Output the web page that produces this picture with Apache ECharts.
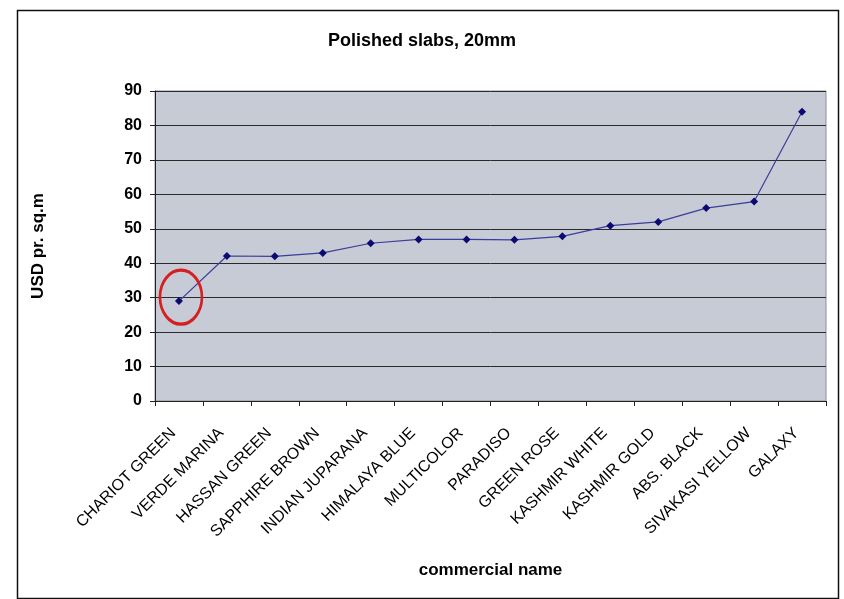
<!DOCTYPE html>
<html>
<head>
<meta charset="utf-8">
<script src="https://cdn.jsdelivr.net/npm/echarts@6/dist/echarts.min.js"></script>
<style>
  html, body { margin: 0; padding: 0; background: #ffffff; }
  #chart { width: 844px; height: 599px; }
</style>
</head>
<body>
<div id="chart"></div>
<script>
// Commercial names of the stone varieties, cheapest first
const categories = [
  'CHARIOT GREEN', 'VERDE MARINA', 'HASSAN GREEN', 'SAPPHIRE BROWN',
  'INDIAN JUPARANA', 'HIMALAYA BLUE', 'MULTICOLOR', 'PARADISO',
  'GREEN ROSE', 'KASHMIR WHITE', 'KASHMIR GOLD', 'ABS. BLACK',
  'SIVAKASI YELLOW', 'GALAXY'
];
// Price of polished 20mm slabs, USD per square metre
const prices = [29, 42.1, 42, 43, 45.8, 46.9, 46.9, 46.8, 47.8, 50.9, 52, 56, 57.9, 84];
// The variety singled out with a ring
const highlighted = 'CHARIOT GREEN';

const chart = echarts.init(document.getElementById('chart'));
const font = 'Arial, "Liberation Sans", sans-serif';

chart.setOption({
  backgroundColor: '#ffffff',
  animation: false,
  title: {
    text: 'Polished slabs, 20mm',
    left: 'center',
    top: 27,
    textStyle: { fontFamily: font, fontSize: 18, fontWeight: 'bold', color: '#000' }
  },
  grid: {
    left: 155, right: 18, top: 91, bottom: 198,
    show: true,
    backgroundColor: '#c6cbd6',
    borderColor: '#8a8f9a',
    borderWidth: 1
  },
  xAxis: {
    type: 'category',
    data: categories,
    boundaryGap: true,
    name: 'commercial name',
    nameLocation: 'middle',
    nameGap: 161,
    nameTextStyle: { fontFamily: font, fontSize: 17, fontWeight: 'bold', color: '#000' },
    axisLine: { show: true, lineStyle: { color: '#222', width: 1 } },
    axisTick: { show: true, alignWithLabel: false, length: 5, lineStyle: { color: '#222' } },
    axisLabel: {
      interval: 0,
      rotate: 45,
      margin: 24,
      padding: [0, 8, 0, 0],
      fontFamily: font,
      fontSize: 16,
      color: '#000'
    },
    splitLine: { show: false }
  },
  yAxis: {
    type: 'value',
    min: 0, max: 90, interval: 10,
    name: 'USD pr. sq.m',
    nameLocation: 'middle',
    nameGap: 108,
    nameTextStyle: { fontFamily: font, fontSize: 17, fontWeight: 'bold', color: '#000' },
    axisLine: { show: true, lineStyle: { color: '#222', width: 1 } },
    axisTick: { show: true, length: 5, lineStyle: { color: '#222' } },
    axisLabel: { fontFamily: font, fontSize: 16, fontWeight: 'bold', color: '#000', margin: 13 },
    splitLine: { show: true, lineStyle: { color: '#2a2a2a', width: 1 } }
  },
  series: [{
    type: 'line',
    data: prices,
    symbol: 'diamond',
    symbolSize: 8,
    lineStyle: { color: '#3c3c9a', width: 1.2 },
    itemStyle: { color: '#0a0a70' },
    markPoint: {
      symbol: 'circle',
      symbolSize: [42, 54],
      symbolOffset: [2, -4],
      silent: true,
      label: { show: false },
      itemStyle: { color: 'rgba(0,0,0,0)', borderColor: '#d42020', borderWidth: 3 },
      data: [{ coord: [highlighted, prices[categories.indexOf(highlighted)]] }]
    }
  }],
  graphic: [{
    type: 'rect',
    left: 15, top: 8,
    shape: { width: 821, height: 588 },
    style: { fill: null, stroke: '#111', lineWidth: 1.5 },
    silent: true,
    z: -1
  }]
});
</script>
</body>
</html>
